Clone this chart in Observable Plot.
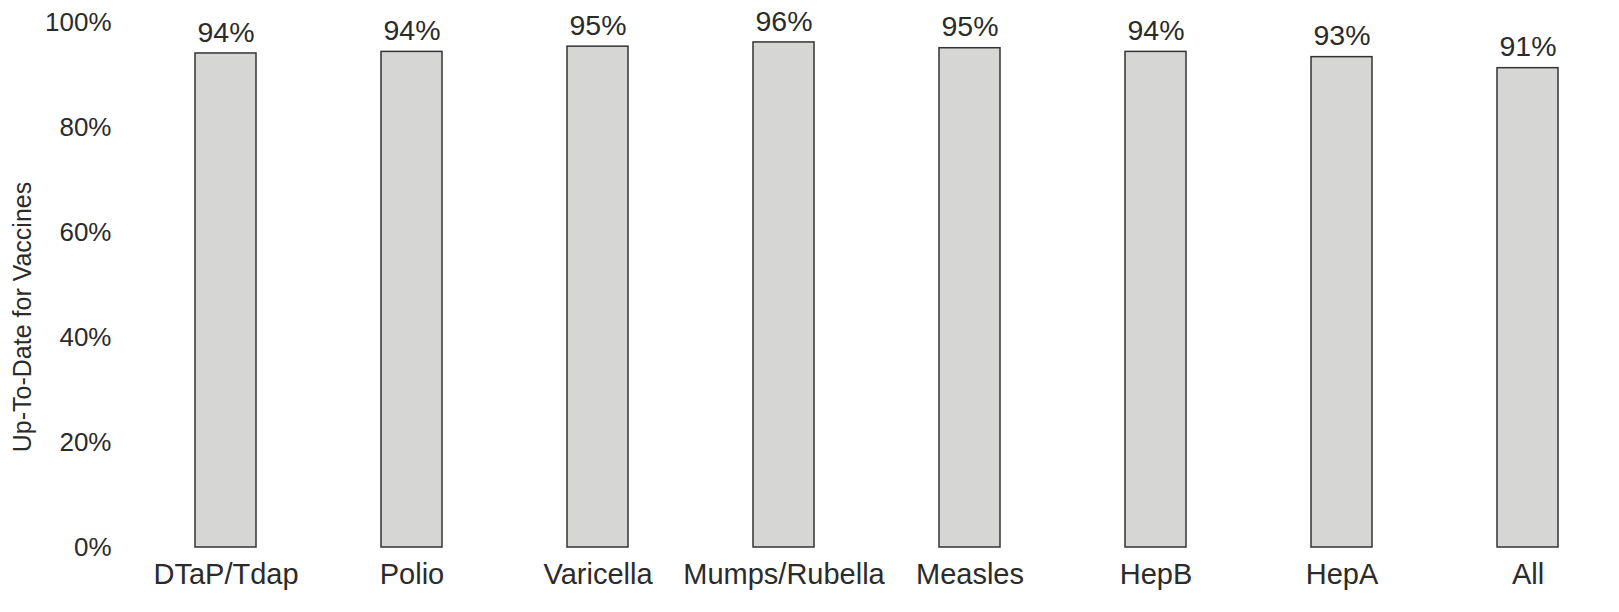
<!DOCTYPE html>
<html>
<head>
<meta charset="utf-8">
<script src="https://cdn.jsdelivr.net/npm/d3@7"></script>
<script src="https://cdn.jsdelivr.net/npm/@observablehq/plot@0.6"></script>
<style>
  html, body { margin: 0; padding: 0; background: #fff; }
</style>
</head>
<body>
<div id="chart"></div>
<script>
const vaccines = ["DTaP/Tdap", "Polio", "Varicella", "Mumps/Rubella", "Measles", "HepB", "HepA", "All"];
const upToDate = [94.1, 94.4, 95.4, 96.2, 95.1, 94.4, 93.4, 91.3];
const yTicks = [0, 20, 40, 60, 80, 100];
const yLabel = "Up-To-Date for Vaccines";

const data = vaccines.map((v, i) => ({vaccine: v, pct: upToDate[i]}));

const chart = Plot.plot({
  width: 1619,
  height: 612,
  marginTop: 22,
  marginBottom: 65,
  marginLeft: 140,
  marginRight: 6,
  style: {fontFamily: "'Liberation Sans', Arial, sans-serif", fontSize: "27px", color: "#2b2b2b", background: "#fff"},
  x: {domain: vaccines, paddingInner: 0.67, paddingOuter: 0.28, label: null},
  y: {domain: [0, 100], label: null},
  marks: [
    Plot.barY(data, {x: "vaccine", y: "pct", fill: "#d6d6d4", stroke: "#333", strokeWidth: 1.5}),
    Plot.text(data, {x: "vaccine", y: "pct", text: d => Math.round(d.pct) + "%", dy: -21, fill: "#2b2b2b", fontSize: 28.5}),
    Plot.axisY({ticks: yTicks, tickFormat: d => d + "%", tickSize: 0, tickPadding: 29, label: null, fontSize: 26}),
    Plot.axisX({tickSize: 0, tickPadding: 16, label: null, fontSize: 29}),
    Plot.text([yLabel], {frameAnchor: "left", textAnchor: "middle", text: d => d, rotate: -90, dx: -118, dy: 32, fill: "#2b2b2b", fontSize: 25})
  ]
});
document.getElementById("chart").appendChild(chart);
</script>
</body>
</html>
